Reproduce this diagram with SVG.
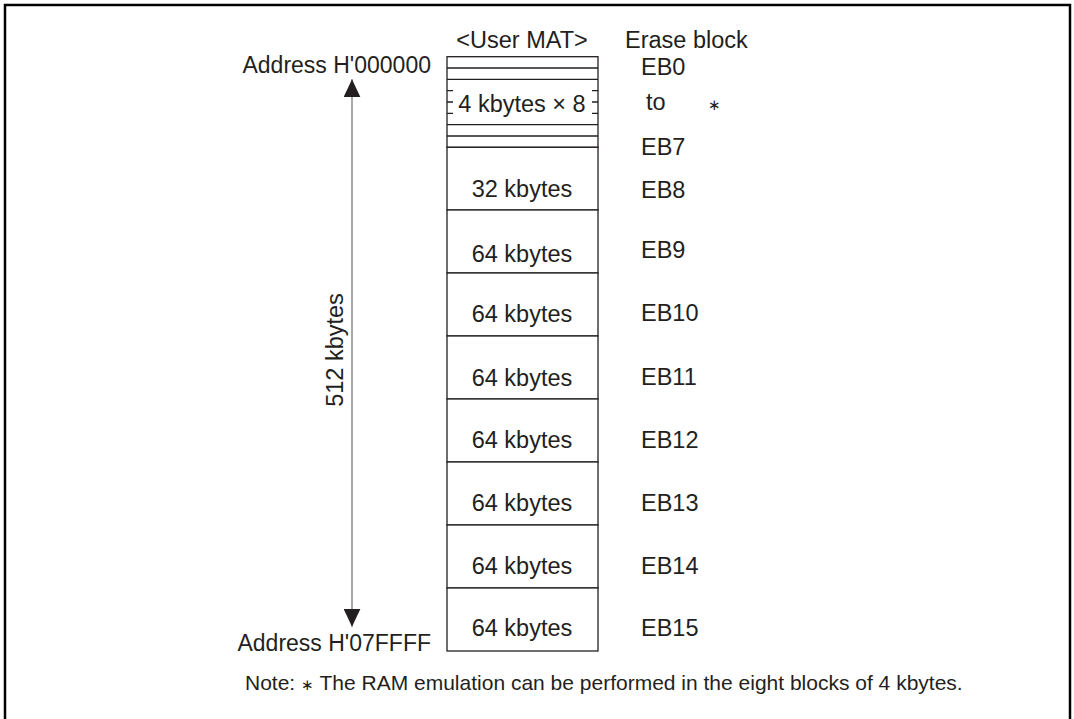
<svg xmlns="http://www.w3.org/2000/svg" width="1074" height="719" viewBox="0 0 1074 719">
<style>
text{font-family:"Liberation Sans",Arial,sans-serif;font-size:23.5px;fill:#231f20}
.blk{fill:#fff;stroke:#231f20;stroke-width:1.3}
.thin{stroke:#231f20;stroke-width:1.3;fill:none}
.mid{text-anchor:middle}
.end{text-anchor:end}
.sm{font-size:21px}
.ast{font-size:15px}
</style>
<defs>
<marker id="ah" markerWidth="18" markerHeight="17" refX="18" refY="8.5" orient="auto-start-reverse" markerUnits="userSpaceOnUse" viewBox="0 0 18 17">
<path d="M0,0 L18,8.5 L0,17 Z" fill="#231f20"/>
</marker>
</defs>
<rect x="5" y="5" width="1065" height="730" fill="#fff" stroke="#000" stroke-width="2.5"/>
<text x="522" y="48" class="mid">&lt;User MAT&gt;</text>
<text x="625" y="48">Erase block</text>
<g id="labels-left">
<text x="431" y="73" class="end" style="font-size:23px">Address H'000000</text>
<text x="431" y="651" class="end" style="font-size:23px">Address H'07FFFF</text>
<text transform="translate(343,350) rotate(-90)" class="mid">512 kbytes</text>
</g>
<g id="small-blocks">
<rect x="447" y="56.7" width="151" height="90.6" class="blk"/>
<path class="thin" d="M447,68 H598 M447,79.3 H598 M447,90.7 H598 M447,102 H598 M447,113.3 H598 M447,124.7 H598 M447,136 H598"/>
<rect x="453" y="86" width="139" height="31" fill="#fff"/>
<text x="522" y="111.7" class="mid">4 kbytes × 8</text>
</g>
<g id="eb8"><rect x="447" y="147.3" width="151" height="62.7" class="blk"/><text x="522" y="197" class="mid">32 kbytes</text></g>
<g id="eb9"><rect x="447" y="210" width="151" height="63" class="blk"/><text x="522" y="262" class="mid">64 kbytes</text></g>
<g id="eb10"><rect x="447" y="273" width="151" height="63" class="blk"/><text x="522" y="322" class="mid">64 kbytes</text></g>
<g id="eb11"><rect x="447" y="336" width="151" height="63" class="blk"/><text x="522" y="386" class="mid">64 kbytes</text></g>
<g id="eb12"><rect x="447" y="399" width="151" height="63" class="blk"/><text x="522" y="448" class="mid">64 kbytes</text></g>
<g id="eb13"><rect x="447" y="462" width="151" height="63" class="blk"/><text x="522" y="511" class="mid">64 kbytes</text></g>
<g id="eb14"><rect x="447" y="525" width="151" height="63" class="blk"/><text x="522" y="574" class="mid">64 kbytes</text></g>
<g id="eb15"><rect x="447" y="588" width="151" height="63" class="blk"/><text x="522" y="636" class="mid">64 kbytes</text></g>
<g id="eb-labels">
<text x="641" y="75">EB0</text>
<text x="646" y="110">to</text>
<text x="708" y="110" class="ast">∗</text>
<text x="641" y="155">EB7</text>
<text x="641" y="198">EB8</text>
<text x="641" y="258">EB9</text>
<text x="641" y="321">EB10</text>
<text x="641" y="385">EB11</text>
<text x="641" y="448">EB12</text>
<text x="641" y="511">EB13</text>
<text x="641" y="574">EB14</text>
<text x="641" y="636">EB15</text>
</g>
<g id="connectors">
<line x1="352" y1="79.3" x2="352" y2="626.7" stroke="#8a8a8a" stroke-width="1.5" marker-start="url(#ah)" marker-end="url(#ah)"/>
</g>
<text x="245" y="690" class="sm">Note:  <tspan class="ast">∗</tspan> The RAM emulation can be performed in the eight blocks of 4 kbytes.</text>
</svg>
